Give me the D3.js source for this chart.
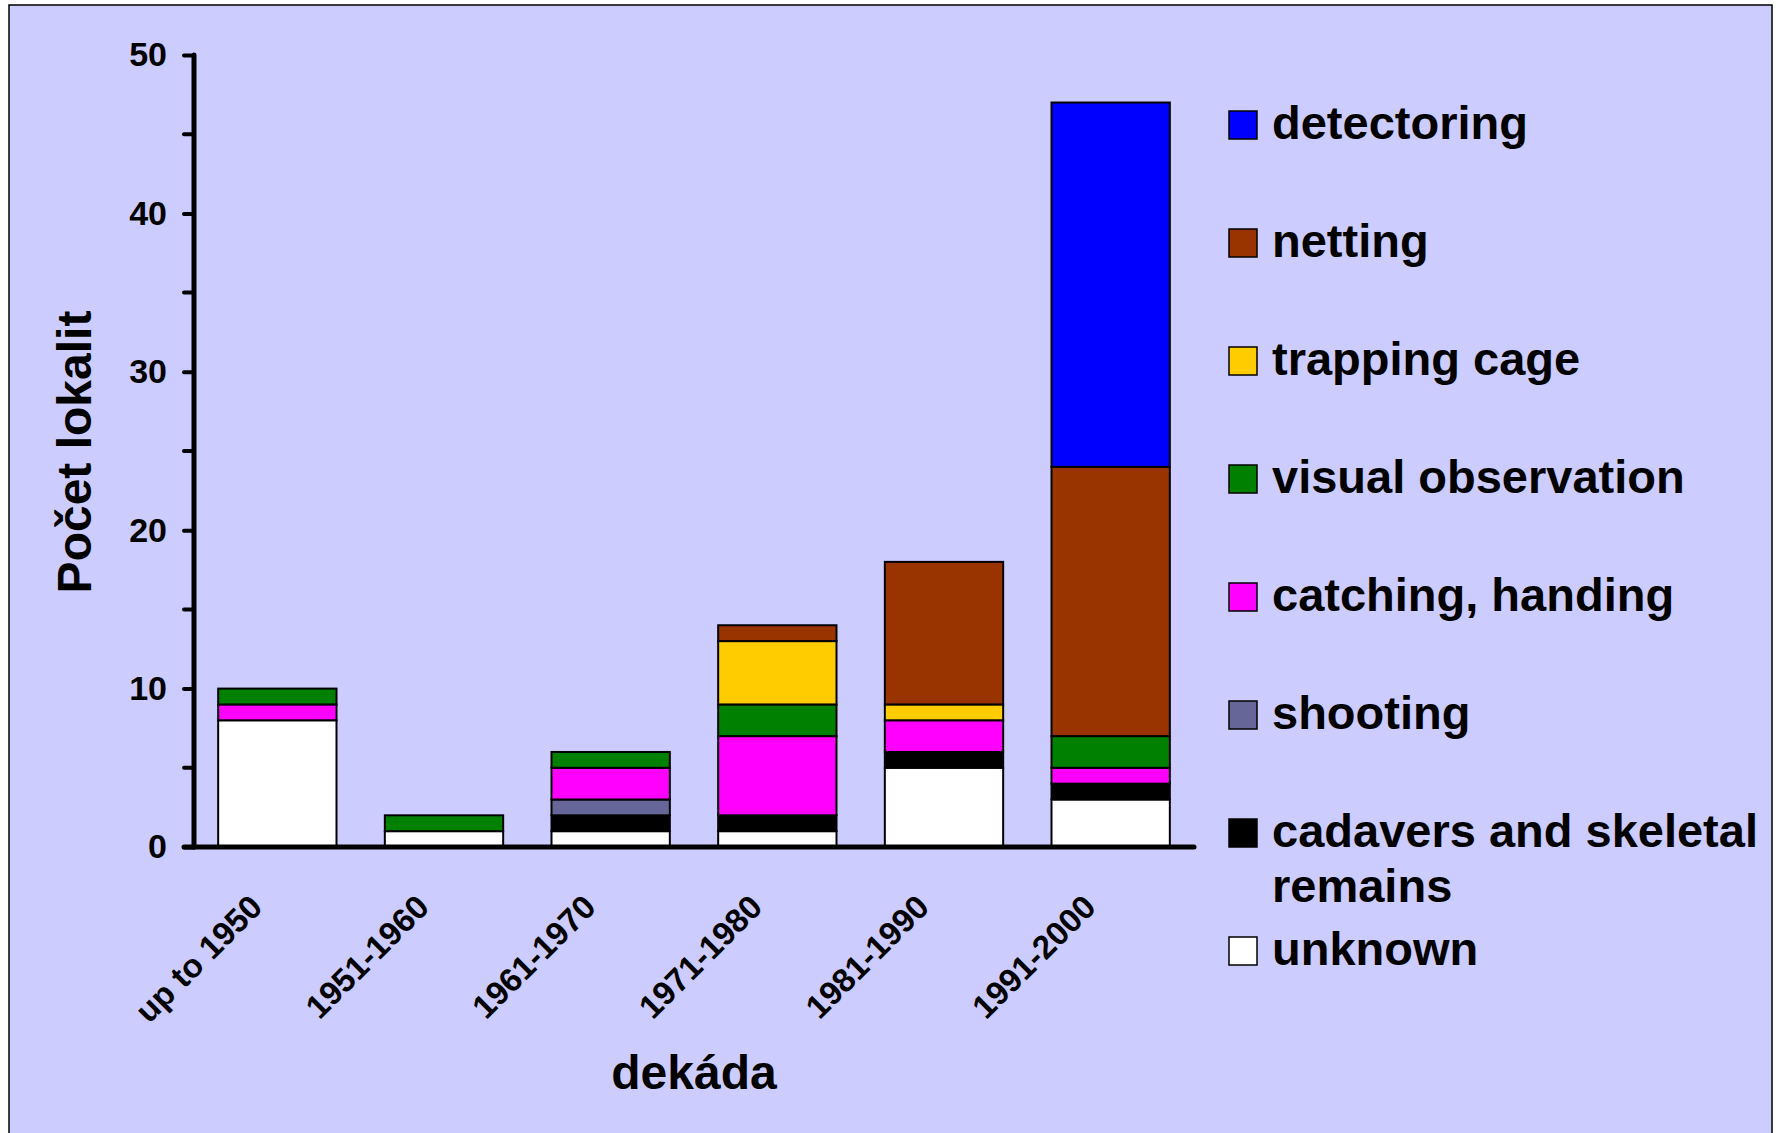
<!DOCTYPE html>
<html>
<head>
<meta charset="utf-8">
<script src="https://cdn.jsdelivr.net/npm/d3@7"></script>
<style>
  body { margin: 0; background: #fff; }
  text { font-family: "Liberation Sans", Arial, sans-serif; font-weight: bold; fill: #000; }
</style>
</head>
<body>
<svg id="chart" width="1780" height="1133"></svg>
<script>
// 1: DATA
const decades = ["up to 1950", "1951-1960", "1961-1970", "1971-1980", "1981-1990", "1991-2000"];
const methods = ["unknown", "cadavers and skeletal remains", "shooting", "catching, handing",
                 "visual observation", "trapping cage", "netting", "detectoring"];
const methodColors = ["#FFFFFF", "#000000", "#666699", "#FF00FF", "#008000", "#FFCC00", "#993300", "#0000FF"];

// values per decade, one array per method (bottom to top)
const unknown     = [8, 1, 1, 1, 5, 3];
const cadavers    = [0, 0, 1, 1, 1, 1];
const shooting    = [0, 0, 1, 0, 0, 0];
const catching    = [1, 0, 2, 5, 2, 1];
const visual      = [1, 1, 1, 2, 0, 2];
const trapping    = [0, 0, 0, 4, 1, 0];
const netting     = [0, 0, 0, 1, 9, 17];
const detectoring = [0, 0, 0, 0, 0, 23];
const seriesValues = [unknown, cadavers, shooting, catching, visual, trapping, netting, detectoring];

const yMajorTicks = [0, 10, 20, 30, 40, 50];
const yMinorTicks = [5, 15, 25, 35, 45];

// 2: LAYOUT
const svg = d3.select("#chart");
const x0 = 194, x1 = 1194, yBase = 847, yTop = 55;

// background frame
svg.append("rect")
    .attr("x", 9).attr("y", 5)
    .attr("width", 1763).attr("height", 1140)
    .attr("fill", "#CCCCFF")
    .attr("stroke", "#000")
    .attr("stroke-width", 1.5);

// 3: SCALES
const xScale = d3.scaleBand()
    .domain(decades)
    .range([x0, x1])
    .paddingInner(0.29)
    .paddingOuter(0.145);

const yScale = d3.scaleLinear()
    .domain([0, 50])
    .range([yBase, yTop]);

const colorScale = d3.scaleOrdinal().domain(methods).range(methodColors);

// build table for stack
const table = decades.map((d, i) => {
    const row = { decade: d };
    methods.forEach((m, j) => row[m] = seriesValues[j][i]);
    return row;
});
const stacked = d3.stack().keys(methods)(table);

// 4: BARS
const layers = svg.append("g").selectAll("g")
    .data(stacked)
    .enter().append("g")
    .attr("fill", d => colorScale(d.key));

layers.selectAll("rect")
    .data(d => d.filter(s => s[1] - s[0] > 0))
    .enter().append("rect")
    .attr("x", d => xScale(d.data.decade))
    .attr("width", xScale.bandwidth())
    .attr("y", d => yScale(d[1]))
    .attr("height", d => yScale(d[0]) - yScale(d[1]))
    .attr("stroke", "#000")
    .attr("stroke-width", 2);

// 5: AXES
const yAxis = svg.append("g")
    .attr("transform", `translate(${x0},0)`)
    .call(d3.axisLeft(yScale).tickValues(yMajorTicks).tickSize(10).tickPadding(17).tickSizeOuter(0));
yAxis.select(".domain").remove();
yAxis.selectAll(".tick line").attr("stroke", "#000").attr("stroke-width", 4).attr("stroke-linecap", "round");
yAxis.selectAll(".tick text")
    .style("font-size", "34px")
    .style("font-family", "'Liberation Sans', Arial, sans-serif")
    .style("font-weight", "bold");

svg.append("g")
    .attr("transform", `translate(${x0},0)`)
    .selectAll("line")
    .data(yMinorTicks)
    .enter().append("line")
    .attr("x1", -10).attr("x2", 0)
    .attr("y1", d => yScale(d)).attr("y2", d => yScale(d))
    .attr("stroke", "#000").attr("stroke-width", 4).attr("stroke-linecap", "round");

svg.append("line")
    .attr("x1", x0).attr("x2", x0)
    .attr("y1", yScale(0)).attr("y2", yScale(50))
    .attr("stroke", "#000").attr("stroke-width", 5).attr("stroke-linecap", "round");

svg.append("line")
    .attr("x1", x0 - 10).attr("x2", x1)
    .attr("y1", yBase).attr("y2", yBase)
    .attr("stroke", "#000").attr("stroke-width", 5).attr("stroke-linecap", "round");

// x labels
svg.append("g").selectAll("text")
    .data(decades)
    .enter().append("text")
    .attr("transform", d => `translate(${xScale(d) + xScale.bandwidth() / 2 - 13},${yBase + 62}) rotate(-45)`)
    .attr("text-anchor", "end")
    .style("font-size", "33px")
    .text(d => d);

// 6: TITLES
svg.append("text")
    .attr("transform", "translate(91,452) rotate(-90)")
    .attr("text-anchor", "middle")
    .style("font-size", "48px")
    .text("Počet lokalit");

svg.append("text")
    .attr("x", 694).attr("y", 1089)
    .attr("text-anchor", "middle")
    .style("font-size", "48px")
    .text("dekáda");

// 7: LEGEND
const legendOrder = methods.slice().reverse();
const legend = svg.append("g").selectAll("g")
    .data(legendOrder)
    .enter().append("g")
    .attr("transform", (d, i) => `translate(1229,${139 + i * 118})`);

legend.append("rect")
    .attr("x", 0).attr("y", -28)
    .attr("width", 28).attr("height", 28)
    .attr("fill", d => colorScale(d))
    .attr("stroke", "#000").attr("stroke-width", 1.5);

legend.append("text")
    .attr("x", 43).attr("y", 0)
    .style("font-size", "47px")
    .each(function(d) {
        const t = d3.select(this);
        if (d === "cadavers and skeletal remains") {
            t.append("tspan").attr("x", 43).attr("dy", 0).text("cadavers and skeletal");
            t.append("tspan").attr("x", 43).attr("dy", 55).text("remains");
        } else {
            t.text(d);
        }
    });
</script>
</body>
</html>
